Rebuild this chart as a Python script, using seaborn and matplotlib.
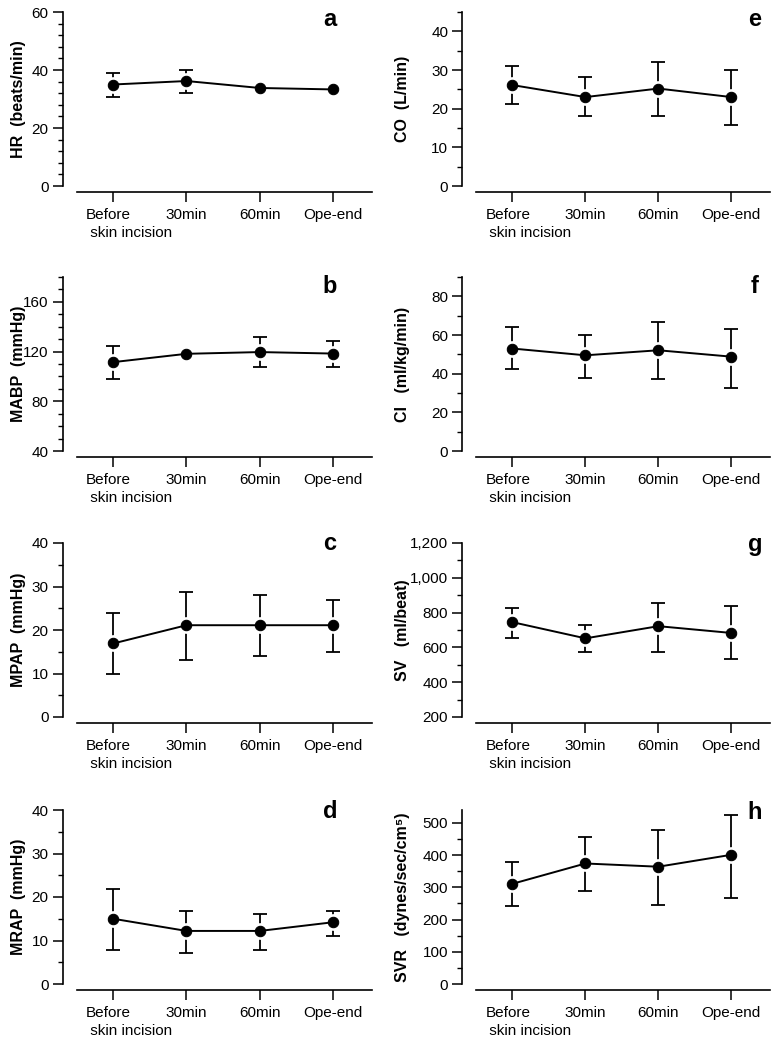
import matplotlib
matplotlib.use('Agg')
import matplotlib.pyplot as plt
import matplotlib.ticker as mticker
from matplotlib.transforms import ScaledTranslation
import numpy as np
import seaborn as sns

# time points (x axis)
times = ['Before\n skin incision', '30min', '60min', 'Ope-end']

# a: HR
hr_mean = [35.0, 36.2, 33.8, 33.3]
hr_upper = [39.0, 40.1, None, None]
hr_lower = [30.8, 31.9, None, None]
# b: MABP
mabp_mean = [111.5, 118.2, 119.6, 118.4]
mabp_upper = [124.5, None, 131.4, 128.8]
mabp_lower = [97.7, None, 107.2, 107.2]
# c: MPAP
mpap_mean = [16.9, 21.1, 21.1, 21.1]
mpap_upper = [23.8, 28.8, 28.0, 26.9]
mpap_lower = [9.9, 13.0, 14.1, 14.9]
# d: MRAP
mrap_mean = [15.0, 12.2, 12.2, 14.2]
mrap_upper = [21.9, 16.8, 16.0, 16.8]
mrap_lower = [7.9, 7.1, 7.9, 11.0]
# e: CO
co_mean = [26.1, 23.0, 25.2, 23.0]
co_upper = [31.1, 28.1, 32.1, 29.9]
co_lower = [21.1, 18.1, 18.1, 15.8]
# f: CI
ci_mean = [53.0, 49.5, 52.1, 48.8]
ci_upper = [64.2, 59.8, 66.8, 63.2]
ci_lower = [42.3, 37.9, 37.0, 32.6]
# g: SV
sv_mean = [745, 652, 722, 683]
sv_upper = [825, 729, 856, 837]
sv_lower = [653, 571, 571, 532]
# h: SVR
svr_mean = [311, 374, 364, 401]
svr_upper = [378, 457, 478, 526]
svr_lower = [242, 290, 246, 268]

sns.set_theme(style='ticks')
plt.rcParams['font.family'] = ['Liberation Sans', 'DejaVu Sans']
plt.rcParams['axes.linewidth'] = 1.2
for k in ['text.color', 'axes.labelcolor', 'xtick.color', 'ytick.color', 'axes.edgecolor']:
    plt.rcParams[k] = 'black'


def draw(ax, mean, upper, lower, ylim, major, minor, label, letter, lpos, labx, fmt=None):
    x = np.arange(len(mean))
    mean = np.array(mean, dtype=float)
    up = np.array([np.nan if v is None else v for v in upper])
    lo = np.array([np.nan if v is None else v for v in lower])
    ok = ~np.isnan(up)
    ax.errorbar(x[ok], mean[ok], yerr=[mean[ok] - lo[ok], up[ok] - mean[ok]],
                fmt='none', ecolor='black', elinewidth=1.3, capsize=5,
                capthick=1.3, zorder=1)
    # white halo round the points
    ax.plot(x, mean, 'o', ms=11, color='white', zorder=2)
    sns.lineplot(x=x, y=mean, ax=ax, color='black', lw=1.4, marker='o',
                 markersize=7.5, markeredgecolor='black', zorder=3)

    ax.set_xlim(-0.5, 3.53)
    ax.set_ylim(*ylim)
    ax.yaxis.set_major_locator(mticker.MultipleLocator(major))
    ax.yaxis.set_minor_locator(mticker.MultipleLocator(minor))
    if fmt:
        ax.yaxis.set_major_formatter(mticker.FuncFormatter(fmt))
    ax.set_xticks(x)
    ax.set_xticklabels(times)
    ax.spines['top'].set_visible(False)
    ax.spines['right'].set_visible(False)
    ax.spines['left'].set_position(('outward', 10))
    ax.spines['bottom'].set_position(('outward', 4))
    ax.tick_params(axis='y', which='major', length=7, width=1.1, labelsize=11,
                   pad=3)
    ax.tick_params(axis='y', which='minor', length=3.5, width=1.0)
    ax.tick_params(axis='x', which='major', length=7, width=1.1, labelsize=11,
                   pad=5)
    ax.set_ylabel(label, fontsize=11.5, fontweight='bold')
    ax.yaxis.set_label_coords(labx, 0.5)
    ax.text(lpos[0], lpos[1], letter, transform=ax.transAxes, fontsize=17,
            fontweight='bold', ha='center', va='center')
    first = ax.get_xticklabels()[0]
    first.set_multialignment('left')
    first.set_linespacing(1.35)
    first.set_transform(first.get_transform() +
                        ScaledTranslation(0.16, 0, ax.figure.dpi_scale_trans))


fig = plt.figure(figsize=(7.77, 10.38), dpi=100)
W, H = 777.0, 1038.0
col_left = [76.5, 476.0]
col_width = [295.5, 294.0]
row_bottom = [186.0, 451.0, 717.0, 984.0]
ax_h = 174.0

panels = [
    (0, 0, hr_mean, hr_upper, hr_lower, (0, 60), 20, 4, 'HR  (beats/min)', 'a', (0.858, 0.955)),
    (0, 1, mabp_mean, mabp_upper, mabp_lower, (40, 180), 40, 10, 'MABP  (mmHg)', 'b', (0.858, 0.945)),
    (0, 2, mpap_mean, mpap_upper, mpap_lower, (0, 40), 10, 5, 'MPAP  (mmHg)', 'c', (0.858, 0.995)),
    (0, 3, mrap_mean, mrap_upper, mrap_lower, (0, 40), 10, 5, 'MRAP  (mmHg)', 'd', (0.858, 0.99)),
    (1, 0, co_mean, co_upper, co_lower, (0, 45), 10, 5, 'CO  (L/min)', 'e', (0.949, 0.955)),
    (1, 1, ci_mean, ci_upper, ci_lower, (0, 90), 20, 10, 'CI   (ml/kg/min)', 'f', (0.949, 0.945)),
    (1, 2, sv_mean, sv_upper, sv_lower, (200, 1200), 200, 100, 'SV   (ml/beat)', 'g', (0.949, 0.99)),
    (1, 3, svr_mean, svr_upper, svr_lower, (0, 540), 100, 50, 'SVR   (dynes/sec/cm\u2075)', 'h', (0.949, 0.985)),
]

for col, row, m, u, l, ylim, major, minor, label, letter, lpos in panels:
    ax = fig.add_axes([col_left[col] / W, 1 - row_bottom[row] / H,
                       col_width[col] / W, ax_h / H])
    labx = -0.17 if col == 0 else -0.225
    fmt = (lambda v, p: f'{v:,.0f}') if letter == 'g' else None
    draw(ax, m, u, l, ylim, major, minor, label, letter, lpos, labx, fmt)

fig.savefig('out.png', dpi=100)
